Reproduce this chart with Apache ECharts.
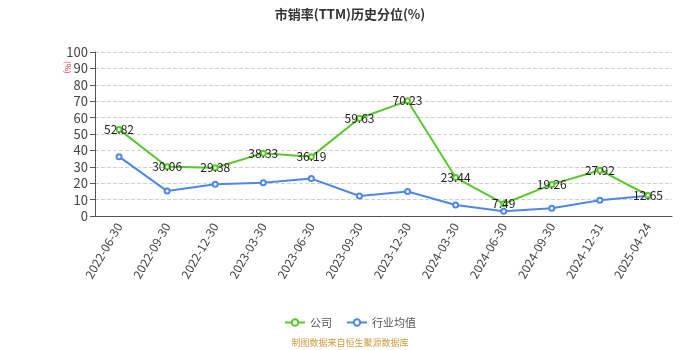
<!DOCTYPE html>
<html>
<head>
<meta charset="utf-8">
<script src="https://cdn.jsdelivr.net/npm/echarts@6/dist/echarts.min.js"></script>
<style>
  html, body { margin: 0; padding: 0; background: #fff; }
  #chart { width: 700px; height: 350px; }
</style>
</head>
<body>
<div id="chart"></div>
<script>
// Reporting dates along the x axis
const dates = ['2022-06-30', '2022-09-30', '2022-12-30', '2023-03-30', '2023-06-30', '2023-09-30',
  '2023-12-30', '2024-03-30', '2024-06-30', '2024-09-30', '2024-12-31', '2025-04-24'];
// P/S (TTM) historical percentile, company
const companyValues = [52.82, 30.06, 29.38, 38.33, 36.19, 59.63, 70.23, 23.44, 7.49, 19.26, 27.92, 12.65];
// P/S (TTM) historical percentile, industry average
const industryValues = [36.2, 15.2, 19.3, 20.3, 22.8, 12.2, 14.9, 6.7, 2.9, 4.7, 9.6, 12.4];
const seriesNames = ['公司', '行业均值'];
const yTicks = { min: 0, max: 100, interval: 10 };

const font = '"Noto Sans CJK SC", "Noto Sans", sans-serif';
const chart = echarts.init(document.getElementById('chart'));
chart.setOption({
  animation: false,
  textStyle: { fontFamily: font },
  title: {
    text: '市销率(TTM)历史分位(%)',
    left: 'center',
    top: 3,
    textStyle: { fontSize: 13, fontWeight: 'bold', color: '#333', fontFamily: font }
  },
  grid: { left: 95, right: 28, top: 52, bottom: 134 },
  legend: {
    bottom: 17,
    left: 'center',
    itemWidth: 20,
    itemHeight: 8,
    itemGap: 14,
    textStyle: { fontSize: 11, color: '#555' },
    data: seriesNames
  },
  graphic: [
    {
      type: 'text',
      left: 'center',
      bottom: 3,
      style: { text: '制图数据来自恒生聚源数据库', fill: '#d19a3c', fontSize: 9, fontFamily: font }
    },
    {
      type: 'text',
      x: 72,
      y: 61,
      rotation: -Math.PI / 2,
      style: { text: '(%)', fill: '#e03030', fontSize: 8, fontFamily: font }
    }
  ],
  xAxis: {
    type: 'category',
    data: dates,
    boundaryGap: true,
    axisLine: { lineStyle: { color: '#555' } },
    axisTick: { alignWithLabel: false, lineStyle: { color: '#555' } },
    axisLabel: { rotate: 60, fontSize: 12, color: '#444', interval: 0, margin: 8 }
  },
  yAxis: {
    type: 'value',
    min: yTicks.min,
    max: yTicks.max,
    interval: yTicks.interval,
    axisLine: { show: true, lineStyle: { color: '#555' } },
    axisTick: { show: true, lineStyle: { color: '#555' } },
    axisLabel: { fontSize: 13, color: '#444', margin: 7 },
    splitLine: { lineStyle: { type: 'dashed', color: '#d0d0d0' } }
  },
  series: [
    {
      name: seriesNames[0],
      type: 'line',
      data: companyValues,
      symbol: 'emptyCircle',
      symbolSize: 5,
      color: '#5ac72a',
      lineStyle: { width: 2 },
      label: { show: true, position: 'inside', fontSize: 12, color: '#222' },
      z: 3
    },
    {
      name: seriesNames[1],
      type: 'line',
      data: industryValues,
      symbol: 'emptyCircle',
      symbolSize: 5,
      color: '#4f87e8',
      lineStyle: { width: 2 },
      z: 2
    }
  ]
});
</script>
</body>
</html>
